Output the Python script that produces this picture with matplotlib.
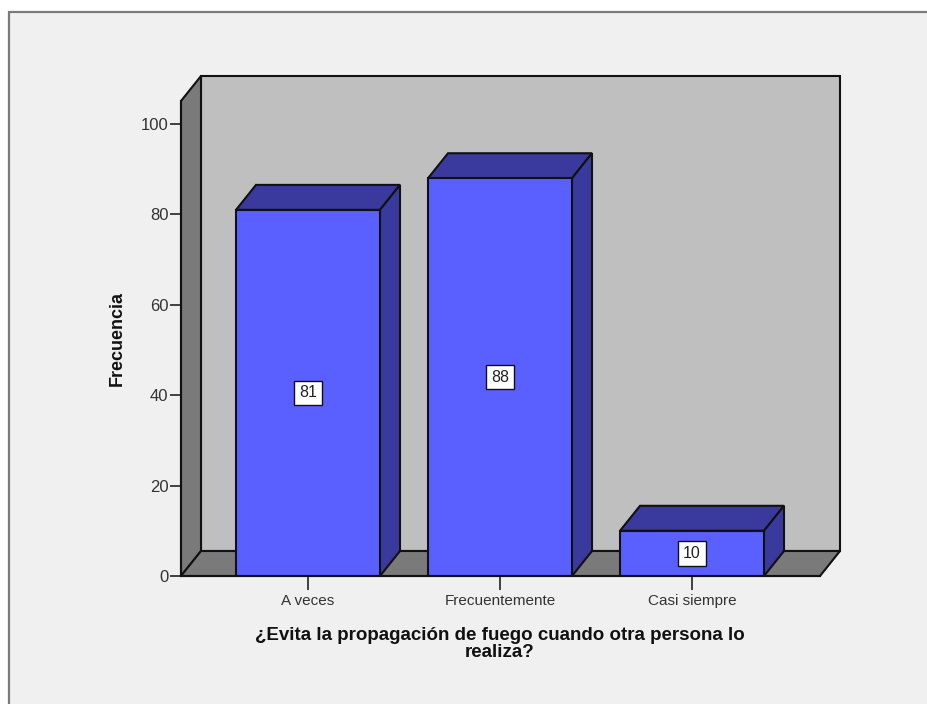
import matplotlib
matplotlib.use('Agg')
import matplotlib.pyplot as plt
from matplotlib.patches import Polygon, Rectangle

categories = ['A veces', 'Frecuentemente', 'Casi siempre']
values = [81, 88, 10]
y_ticks = [0, 20, 40, 60, 80, 100]

W, H = 927, 704
plt.rcParams['font.family'] = ['Liberation Sans', 'DejaVu Sans']

fig = plt.figure(figsize=(W / 100, H / 100), dpi=100, facecolor='white')

# gray panel behind the chart, the spss frame
bg = fig.add_axes([0, 0, 1, 1])
bg.set_xlim(0, W)
bg.set_ylim(H, 0)
bg.axis('off')
bg.add_patch(Rectangle((9.5, 11.5), W + 20, H + 20, facecolor='#f0f0f0', edgecolor='#7a7a7a', linewidth=1.6))

# axes box = front of the floor, px 181..820 and 101..576
ax = fig.add_axes([181 / W, 1 - 576 / H, (820 - 181) / W, (576 - 101) / H])
ax.patch.set_alpha(0)
xmin, xmax = (181 - 308) / 192, (820 - 308) / 192
ymax = (576 - 101) / 4.52
ax.set_xlim(xmin, xmax)
ax.set_ylim(0, ymax)

# 3d offset in data units
dx = 20 / 192
dy = 25 / 4.52
lw = 1.5
edge = '#111111'
clip = dict(clip_on=False, joinstyle='miter')

# back wall, side wall, floor
ax.add_patch(Polygon([(xmin + dx, dy), (xmax + dx, dy), (xmax + dx, ymax + dy), (xmin + dx, ymax + dy)],
                     facecolor='#bfbfbf', edgecolor=edge, linewidth=lw, zorder=1, **clip))
ax.add_patch(Polygon([(xmin, 0), (xmin + dx, dy), (xmin + dx, ymax + dy), (xmin, ymax)],
                     facecolor='#7a7a7a', edgecolor=edge, linewidth=lw, zorder=1, **clip))
ax.add_patch(Polygon([(xmin, 0), (xmax, 0), (xmax + dx, dy), (xmin + dx, dy)],
                     facecolor='#7a7a7a', edgecolor=edge, linewidth=lw, zorder=1, **clip))

bar_w = 144 / 192
for i, v in enumerate(values):
    l, r = i - bar_w / 2, i + bar_w / 2
    ax.add_patch(Polygon([(l, v), (r, v), (r + dx, v + dy), (l + dx, v + dy)],
                         facecolor='#3a3a9e', edgecolor=edge, linewidth=lw, zorder=2, **clip))
    ax.add_patch(Polygon([(r, 0), (r + dx, dy), (r + dx, v + dy), (r, v)],
                         facecolor='#3a3a9e', edgecolor=edge, linewidth=lw, zorder=2, **clip))
    ax.bar(i, v, width=bar_w, color='#5a5fff', edgecolor=edge, linewidth=lw, zorder=3)
    ax.text(i, v / 2, str(v), ha='center', va='center', fontsize=11.5, color='#222222', zorder=4,
            bbox=dict(boxstyle='square,pad=0.3', facecolor='white', edgecolor=edge, linewidth=1))

for s in ['top', 'right']:
    ax.spines[s].set_visible(False)
for s in ['left', 'bottom']:
    ax.spines[s].set_linewidth(lw)
    ax.spines[s].set_color(edge)
    ax.spines[s].set_zorder(5)

ax.set_xticks(range(len(categories)))
ax.set_xticklabels(categories, fontsize=11, color='#333333')
ax.set_yticks(y_ticks)
ax.tick_params(axis='y', labelsize=12, length=8, width=1.3, pad=1, labelcolor='#333333', color='#333333')
ax.tick_params(axis='x', length=10, width=1.3, pad=3, color='#333333')

fig.text(117 / W, 1 - 338 / H, 'Frecuencia', rotation=90, ha='center', va='center',
         fontsize=13, fontweight='bold', color='#111111')
fig.text(500 / W, 1 - 644 / H, '¿Evita la propagación de fuego cuando otra persona lo\nrealiza?',
         ha='center', va='center', fontsize=13.5, fontweight='bold', color='#111111', linespacing=0.95)

fig.savefig('out.png', dpi=100)
